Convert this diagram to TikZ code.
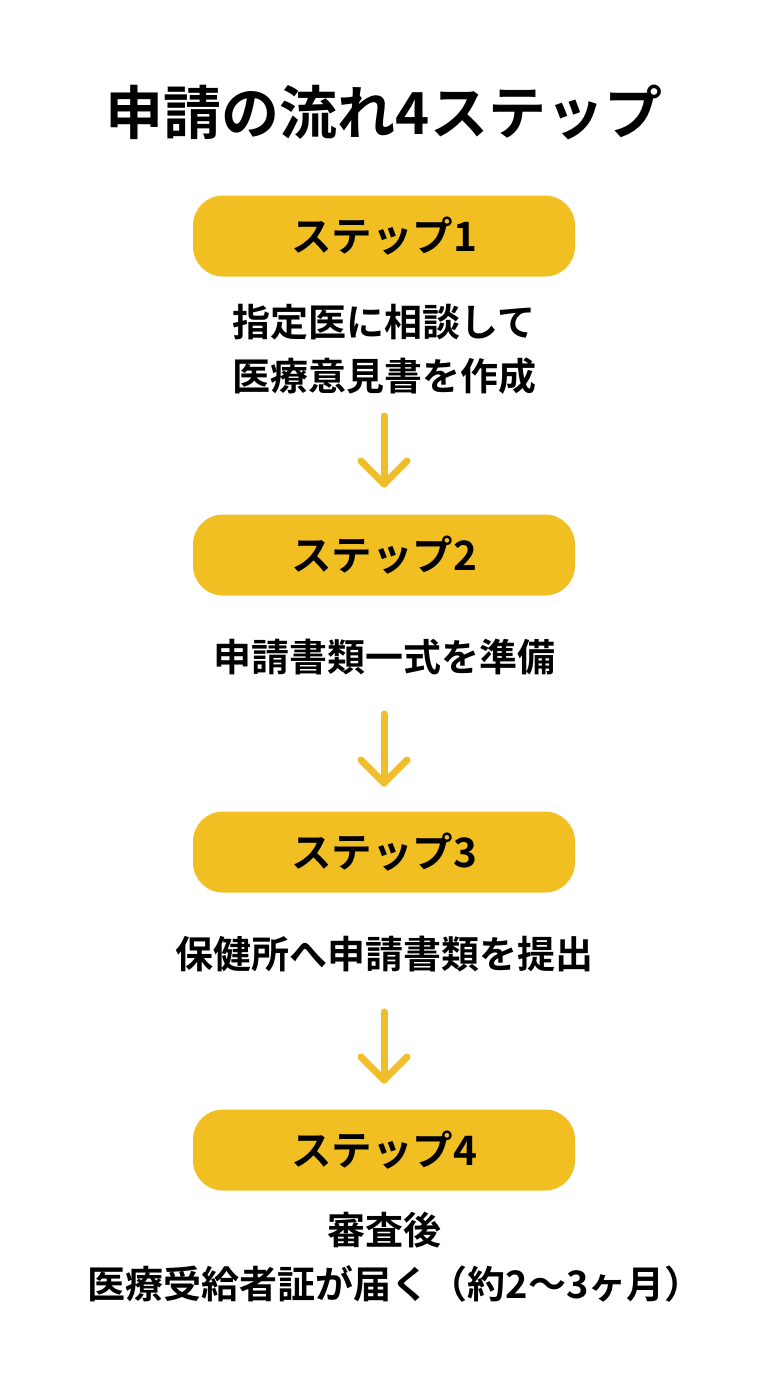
\documentclass[tikz,border=0pt]{standalone}
\usepackage{fontspec}
\setmainfont{Noto Sans CJK JP}[BoldFont={Noto Sans CJK JP Bold}]
\definecolor{stepyellow}{HTML}{F1BF22}
\definecolor{arrowyellow}{HTML}{F0BE2A}
\tikzset{
  stepbox/.style={fill=stepyellow, rounded corners=30pt, minimum width=382pt, minimum height=81pt, inner sep=0pt, font=\fontsize{40.5}{46}\selectfont\bfseries, text=black},
  desc/.style={align=center, font=\fontsize{38}{54}\selectfont\bfseries, text=black, inner sep=0pt},
  arrowline/.style={draw=arrowyellow, line width=7pt, line cap=round, line join=round}
}
\begin{document}
\begin{tikzpicture}[x=1pt,y=-1pt]
\useasboundingbox[fill=white] (0,0) rectangle (768,1376);
\node[font=\fontsize{58}{62}\selectfont\bfseries, inner sep=0pt] (title) at (384,112) {申請の流れ4ステップ};
\node[stepbox] (s1) at (384,236) {ステップ1};
\node[desc] (d1) at (384,349) {指定医に相談して\\医療意見書を作成};
\node[stepbox] (s2) at (384,555) {ステップ2};
\node[desc] (d2) at (384,657) {申請書類一式を準備};
\node[stepbox] (s3) at (384,852) {ステップ3};
\node[desc] (d3) at (384,954) {保健所へ申請書類を提出};
\node[stepbox] (s4) at (384,1150) {ステップ4};
\node[desc] (d4) at (384,1257) {審査後\\\hspace*{22pt}医療受給者証が届く（約2〜3ヶ月）};
% arrows
\foreach \n/\ys/\ye in {1/416/484, 2/714/783, 3/1012/1080}{
  \coordinate (a\n s) at (384,\ys);
  \coordinate (a\n e) at (384,\ye);
  \coordinate (a\n l) at (361,\ye-23);
  \coordinate (a\n r) at (407,\ye-23);
  \draw[arrowline] (a\n s) -- (a\n e);
  \draw[arrowline] (a\n l) -- (a\n e) -- (a\n r);
}
\end{tikzpicture}
\end{document}
